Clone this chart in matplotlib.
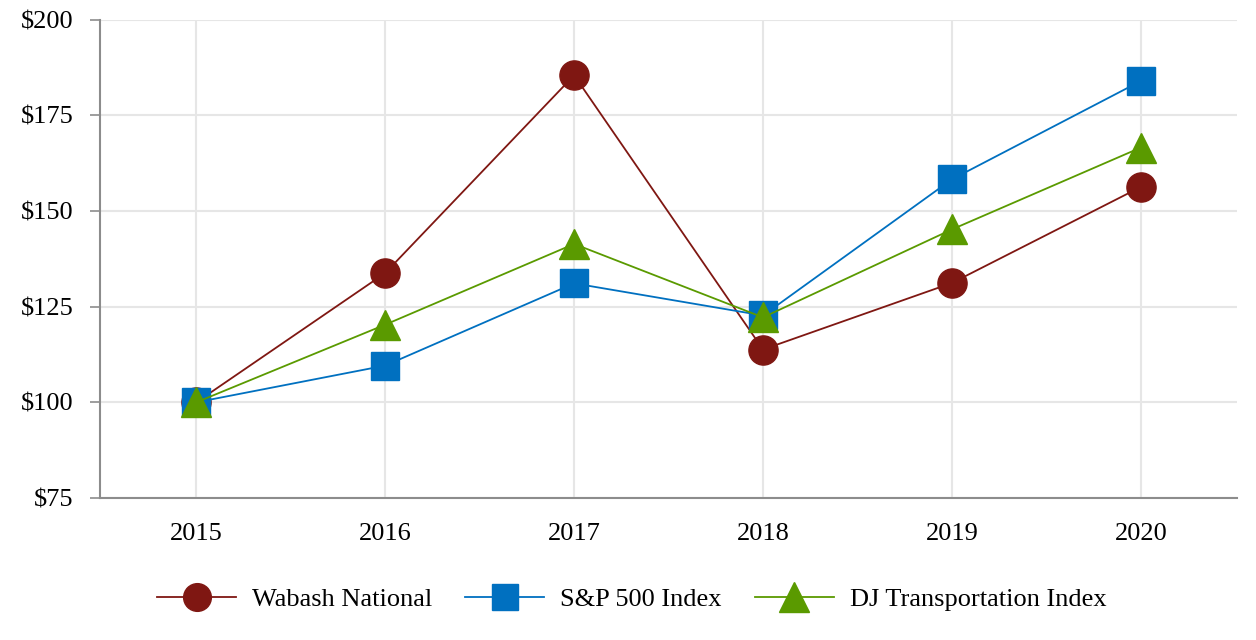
import numpy as np
import matplotlib.pyplot as plt

plt.rcParams['font.family'] = ['Liberation Serif', 'DejaVu Serif']

years = ['2015', '2016', '2017', '2018', '2019', '2020']
wabash = [100, 133.8, 185.5, 113.8, 131.2, 156.3]
sp500 = [100, 109.6, 131.1, 122.7, 158.3, 184.0]
djt = [100, 120.3, 141.4, 122.2, 145.2, 166.6]

x = np.arange(len(years))

fig = plt.figure(figsize=(12.56, 6.4), dpi=100)
ax = fig.add_axes([0.0796, 0.222, 0.9054, 0.747])

ax.plot(x, wabash, color='#7f1712', lw=1.3, marker='o', ms=21, label='Wabash National', zorder=3)
ax.plot(x, sp500, color='#0070c0', lw=1.3, marker='s', ms=20, label='S&P 500 Index', zorder=3)
ax.plot(x, djt, color='#5a9a00', lw=1.3, marker='^', ms=22, label='DJ Transportation Index', zorder=3)

ax.set_xlim(-0.51, 5.51)
ax.set_ylim(75, 200)
ax.set_xticks(x)
ax.set_xticklabels(years)
ax.set_yticks(np.arange(75, 201, 25))
ax.set_yticklabels(['$%d' % v for v in np.arange(75, 201, 25)])
ax.tick_params(axis='y', length=7, width=1.2, color='#8c8c8c', labelsize=19, pad=12)
ax.tick_params(axis='x', length=0, labelsize=19, pad=18)
ax.grid(color='#e6e6e6', lw=1.5)
ax.set_axisbelow(True)
for s in ['top', 'right']:
    ax.spines[s].set_visible(False)
for s in ['left', 'bottom']:
    ax.spines[s].set_color('#8c8c8c')
    ax.spines[s].set_linewidth(1.5)

fig.legend(loc='center', bbox_to_anchor=(0.503, 0.063), ncol=3, frameon=False,
           fontsize=19, markerscale=0.95, handlelength=3.0, handletextpad=0.6,
           columnspacing=1.25)

fig.savefig('out.png', dpi=100)
